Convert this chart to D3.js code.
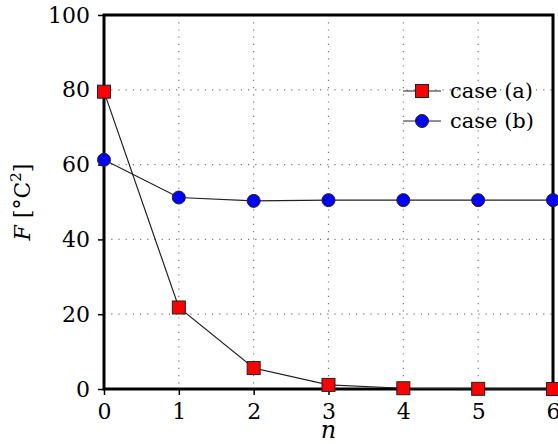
<!DOCTYPE html>
<html>
<head>
<meta charset="utf-8">
<script src="https://cdn.jsdelivr.net/npm/d3@7"></script>
<style>
  html, body { margin: 0; padding: 0; background: #fff; }
</style>
</head>
<body>
<div id="chart"></div>
<script>
// Values
const iterations = [0, 1, 2, 3, 4, 5, 6];
const caseA = [79.5, 21.8, 5.6, 1.1, 0.2, 0.05, 0.0];
const caseB = [61.3, 51.2, 50.3, 50.5, 50.5, 50.5, 50.5];
const yTicks = [0, 20, 40, 60, 80, 100];
const seriesLabels = ['case (a)', 'case (b)'];

const FONT = '"DejaVu Serif", "Liberation Serif", serif';

const W = 558, H = 444;
const MARGIN = { top: 15, right: 5, bottom: 55, left: 104 };
const innerW = W - MARGIN.left - MARGIN.right;
const innerH = H - MARGIN.top - MARGIN.bottom;

const svg = d3.select('#chart').append('svg')
  .attr('width', W).attr('height', H)
  .style('font-family', FONT);

const x = d3.scaleLinear().domain([0, 6]).range([0, innerW]);
const y = d3.scaleLinear().domain([0, 100]).range([innerH, 0]);

const g = svg.append('g').attr('transform', `translate(${MARGIN.left},${MARGIN.top})`);

// Dotted grid
g.append('g').selectAll('line')
  .data(iterations.slice(1, -1))
  .join('line')
  .attr('x1', d => x(d)).attr('x2', d => x(d))
  .attr('y1', 0).attr('y2', innerH)
  .attr('stroke', '#777').attr('stroke-width', 1.2)
  .attr('stroke-dasharray', '1.2,6');
g.append('g').selectAll('line')
  .data(yTicks.slice(1, -1))
  .join('line')
  .attr('x1', 0).attr('x2', innerW)
  .attr('y1', d => y(d)).attr('y2', d => y(d))
  .attr('stroke', '#777').attr('stroke-width', 1.2)
  .attr('stroke-dasharray', '1.2,6');

// Axes
const xAxis = g.append('g')
  .attr('transform', `translate(0,${innerH})`)
  .call(d3.axisBottom(x).tickValues(iterations).tickSize(6).tickPadding(8).tickFormat(d3.format('d')));
const yAxis = g.append('g')
  .call(d3.axisLeft(y).tickValues(yTicks).tickSize(6).tickPadding(8));
[xAxis, yAxis].forEach(a => {
  a.attr('font-family', null).attr('font-size', null);
  a.select('.domain').remove();
  a.selectAll('.tick line').attr('stroke', '#000').attr('stroke-width', 1.5);
  a.selectAll('.tick text')
    .style('font-family', FONT)
    .style('font-size', '22px').attr('fill', '#000');
});

// Frame
g.append('rect')
  .attr('width', innerW).attr('height', innerH)
  .attr('fill', 'none').attr('stroke', '#000').attr('stroke-width', 3);

const line = d3.line().x((d, i) => x(iterations[i])).y(d => y(d));

// case (b)
g.append('path').datum(caseB)
  .attr('d', line).attr('fill', 'none')
  .attr('stroke', '#222').attr('stroke-width', 1.2);
g.append('g').selectAll('circle')
  .data(caseB)
  .join('circle')
  .attr('cx', (d, i) => x(iterations[i])).attr('cy', d => y(d))
  .attr('r', 6.5)
  .attr('fill', '#0000ff').attr('stroke', '#222').attr('stroke-width', 1);

// case (a)
g.append('path').datum(caseA)
  .attr('d', line).attr('fill', 'none')
  .attr('stroke', '#222').attr('stroke-width', 1.2);
g.append('g').selectAll('rect')
  .data(caseA)
  .join('rect')
  .attr('x', (d, i) => x(iterations[i]) - 6.5).attr('y', d => y(d) - 6.5)
  .attr('width', 13).attr('height', 13)
  .attr('fill', '#ff0000').attr('stroke', '#222').attr('stroke-width', 1);

// Legend
const legend = g.append('g').attr('transform', `translate(${299},${76})`);
seriesLabels.forEach((label, i) => {
  const row = legend.append('g').attr('transform', `translate(0,${i * 30})`);
  row.append('line').attr('x1', 0).attr('x2', 38).attr('y1', 0).attr('y2', 0)
    .attr('stroke', '#222').attr('stroke-width', 1.2);
  if (i === 0) {
    row.append('rect').attr('x', 12.5).attr('y', -6.5).attr('width', 13).attr('height', 13)
      .attr('fill', '#ff0000').attr('stroke', '#222').attr('stroke-width', 1);
  } else {
    row.append('circle').attr('cx', 19).attr('cy', 0).attr('r', 6.5)
      .attr('fill', '#0000ff').attr('stroke', '#222').attr('stroke-width', 1);
  }
  row.append('text').attr('x', 47).attr('y', 0).attr('dy', '0.32em')
    .style('font-size', '21px').attr('fill', '#000').text(label);
});

// Axis titles
svg.append('text')
  .attr('x', MARGIN.left + x(3)).attr('y', 438)
  .attr('text-anchor', 'middle').style('font-size', '24px').attr('font-style', 'italic')
  .text('n');

const yTitle = svg.append('text')
  .attr('transform', `translate(30,${MARGIN.top + innerH / 2}) rotate(-90)`)
  .attr('text-anchor', 'middle').style('font-size', '22px');
yTitle.append('tspan').attr('font-style', 'italic').text('F');
yTitle.append('tspan').text(' [°C');
yTitle.append('tspan').style('font-size', '15px').attr('dy', -9).text('2');
yTitle.append('tspan').attr('dy', 9).text(']');
</script>
</body>
</html>
